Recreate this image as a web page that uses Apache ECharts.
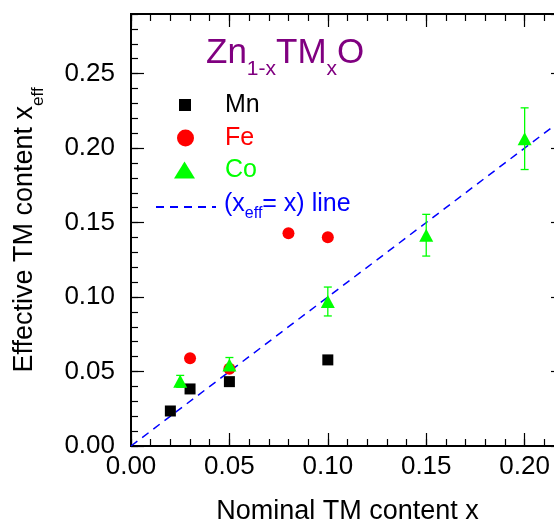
<!DOCTYPE html>
<html>
<head>
<meta charset="utf-8">
<script src="https://cdn.jsdelivr.net/npm/echarts@6/dist/echarts.min.js"></script>
<style>
  html, body { margin: 0; padding: 0; background: #fff; }
  #chart { width: 554px; height: 523px; }
</style>
</head>
<body>
<div id="chart"></div>
<script>
// values
var mnX = [0.02, 0.03, 0.05, 0.10];
var mnY = [0.0235, 0.0383, 0.0432, 0.0578];
var feX = [0.03, 0.05, 0.08, 0.10];
var feY = [0.0589, 0.0518, 0.1428, 0.1402];
var coX = [0.025, 0.05, 0.10, 0.15, 0.20];
var coY = [0.0434, 0.0544, 0.0970, 0.1415, 0.2063];
var coErr = [0.0040, 0.0050, 0.0097, 0.0140, 0.0207];
var lineX = [0, 0.22];
var lineY = [0, 0.22];

var FONT = 'Liberation Sans';

function pairs(xs, ys) {
    return xs.map(function (x, i) { return [x, ys[i]]; });
}

var dom = document.getElementById('chart');
var myChart = echarts.init(dom, null, { renderer: 'canvas' });

// one axis = major ticks (with labels), another one = minor ticks
function xAx(pos, major, labels) {
    return {
        type: 'value', position: pos, min: 0, max: 0.22,
        interval: major ? 0.05 : 0.01,
        name: labels ? 'Nominal TM content x' : '',
        nameLocation: 'middle', nameGap: 52,
        nameTextStyle: { fontFamily: FONT, fontSize: 27, color: '#000' },
        axisLine: { show: true, onZero: false, lineStyle: { color: '#000', width: 2 } },
        axisTick: { show: true, inside: true, length: major ? 13 : 7, lineStyle: { color: '#000', width: 1.2 } },
        axisLabel: {
            show: labels, showMaxLabel: false, margin: 8,
            fontFamily: FONT, fontSize: 26, color: '#000',
            formatter: function (v) { return v.toFixed(2); }
        },
        splitLine: { show: false }
    };
}
function yAx(pos, major, labels) {
    return {
        type: 'value', position: pos, min: 0, max: 0.29,
        interval: major ? 0.05 : 0.01,
        name: labels ? '{a|Effective TM content x}{s|eff}' : '',
        nameLocation: 'middle', nameGap: 84,
        nameTextStyle: {
            fontFamily: FONT, color: '#000',
            rich: {
                a: { fontFamily: FONT, fontSize: 27, lineHeight: 36, verticalAlign: 'top', color: '#000' },
                s: { fontFamily: FONT, fontSize: 17, lineHeight: 8, verticalAlign: 'bottom', color: '#000' }
            }
        },
        axisLine: { show: true, onZero: false, lineStyle: { color: '#000', width: 2 } },
        axisTick: { show: true, inside: true, length: major ? 13 : 7, lineStyle: { color: '#000', width: 1.2 } },
        axisLabel: {
            show: labels, showMaxLabel: false, margin: 16,
            fontFamily: FONT, fontSize: 26, color: '#000',
            formatter: function (v) { return v.toFixed(2); }
        },
        splitLine: { show: false }
    };
}

function legendItem(name, left, top, icon, w, h, color, pad) {
    var item = { name: name };
    if (icon) {
        item.icon = icon;
    } else {
        item.itemStyle = { opacity: 0 };
    }
    return {
        data: [item],
        left: left, top: top, orient: 'vertical',
        itemWidth: w, itemHeight: h, padding: 0,
        selectedMode: false,
        textStyle: {
            fontFamily: FONT, fontSize: 25, lineHeight: 26, color: color,
            padding: [0, 0, 0, pad],
            rich: {
                a: { fontFamily: FONT, fontSize: 25, lineHeight: 30, verticalAlign: 'top', color: color },
                s: { fontFamily: FONT, fontSize: 16, lineHeight: 6, verticalAlign: 'bottom', color: color }
            }
        },
        formatter: name === 'line' ? '{a|(x}{s|eff}{a|= x) line}' : '{name}'
    };
}

option = {
    backgroundColor: '#fff',
    animation: false,
    title: {
        text: '{a|Zn}{s|1-x}{a|TM}{s|x}{a|O}',
        left: 206, top: 36, padding: 0,
        textStyle: {
            fontWeight: 'normal',
            rich: {
                a: { fontFamily: FONT, fontSize: 35, fontWeight: 'normal', lineHeight: 44, verticalAlign: 'top', color: '#800080' },
                s: { fontFamily: FONT, fontSize: 21, fontWeight: 'normal', lineHeight: 4, verticalAlign: 'bottom', color: '#800080' }
            }
        }
    },
    legend: [
        legendItem('Mn', 179, 92, 'rect', 12, 12, '#000', 29),
        legendItem('Fe', 177, 125, 'circle', 17, 17, '#ff0000', 26),
        legendItem('Co', 174, 157, 'triangle', 21, 17, '#00ff00', 25),
        legendItem('line', 155, 192, null, 60, 14, '#0000ff', 3)
    ],
    grid: { left: 131, top: 14, width: 433, height: 432, outerBoundsMode: 'none', containLabel: false },
    xAxis: [
        xAx('bottom', true, true),
        xAx('bottom', false, false),
        xAx('top', true, false),
        xAx('top', false, false)
    ],
    yAxis: [
        yAx('left', true, true),
        yAx('left', false, false),
        yAx('right', true, false),
        yAx('right', false, false)
    ],
    series: [
        {
            name: 'line', type: 'line',
            data: pairs(lineX, lineY),
            showSymbol: false, symbol: 'none',
            lineStyle: { color: '#0000ff', width: 1.5, type: [8, 6] },
            itemStyle: { color: '#0000ff' },
            z: 1
        },
        {
            name: 'Co err', type: 'custom',
            data: coX.map(function (x, i) { return [x, coY[i], coErr[i]]; }),
            renderItem: function (params, api) {
                var x = api.value(0), y = api.value(1), e = api.value(2);
                var t = api.coord([x, y + e]);
                var b = api.coord([x, y - e]);
                var w = 4;
                var st = { stroke: '#00ff00', lineWidth: 1.3 };
                return {
                    type: 'group',
                    children: [
                        { type: 'line', shape: { x1: t[0], y1: t[1], x2: b[0], y2: b[1] }, style: st },
                        { type: 'line', shape: { x1: t[0] - w, y1: t[1], x2: t[0] + w, y2: t[1] }, style: st },
                        { type: 'line', shape: { x1: b[0] - w, y1: b[1], x2: b[0] + w, y2: b[1] }, style: st }
                    ]
                };
            },
            z: 2
        },
        {
            name: 'Mn', type: 'scatter', data: pairs(mnX, mnY),
            symbol: 'rect', symbolSize: 11,
            itemStyle: { color: '#000', opacity: 1 }, z: 3
        },
        {
            name: 'Fe', type: 'scatter', data: pairs(feX, feY),
            symbol: 'circle', symbolSize: 12,
            itemStyle: { color: '#ff0000', opacity: 1 }, z: 3
        },
        {
            name: 'Co', type: 'scatter', data: pairs(coX, coY),
            symbol: 'triangle', symbolSize: [14, 13],
            itemStyle: { color: '#00ff00', opacity: 1 }, z: 4
        }
    ]
};
myChart.setOption(option, true);
</script>
</body>
</html>
